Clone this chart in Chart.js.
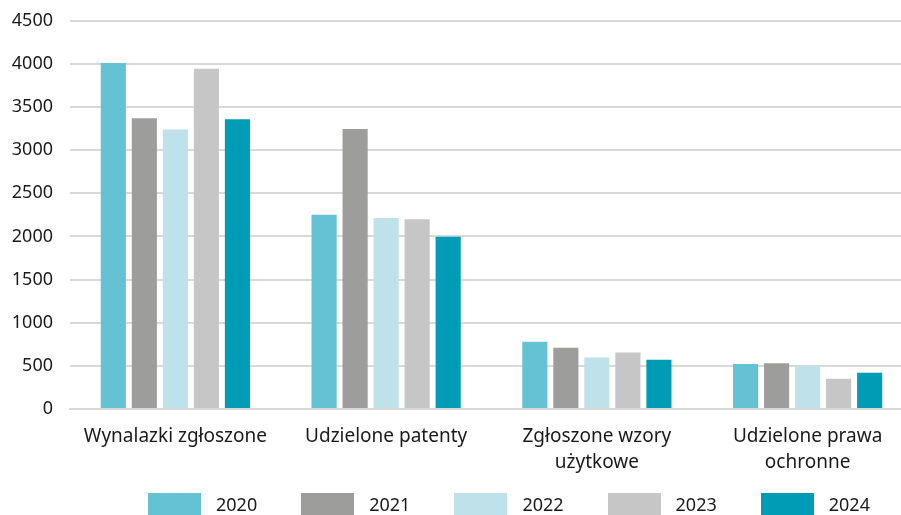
<!DOCTYPE html>
<html lang="pl">
<head>
  <meta charset="UTF-8">
  <title>Ochrona własności przemysłowej 2020-2024</title>
  <script src="https://cdn.jsdelivr.net/npm/chart.js"></script>
  <style>
    html, body { margin: 0; padding: 0; background: #fff; overflow: hidden; }
    #wrap { position: relative; width: 901px; height: 515px; overflow: hidden; }
    #box { position: absolute; left: 0; top: -7px; width: 914px; height: 505px; }
    #legenda { position: absolute; left: 148px; top: 492px; display: flex; gap: 44px;
      font-family: "Noto Sans", sans-serif; font-size: 18px; color: #1a1a1a; }
    #legenda .item { display: flex; align-items: center; }
    #legenda .kolor { width: 53px; height: 23px; margin-right: 15px; }
  </style>
</head>
<body>
  <div id="wrap">
    <div id="box"><canvas id="wykres"></canvas></div>
    <div id="legenda"></div>
  </div>

  <script>
    const kategorie = [
      "Wynalazki zgłoszone",
      "Udzielone patenty",
      ["Zgłoszone wzory", "użytkowe"],
      ["Udzielone prawa", "ochronne"]
    ];
    const lata = ["2020", "2021", "2022", "2023", "2024"];
    const kolory = ["#64c2d4", "#9d9d9c", "#bfe1e9", "#c6c6c6", "#009bb4"];

    const dane2020 = [4010, 2250, 780, 520];
    const dane2021 = [3370, 3245, 710, 530];
    const dane2022 = [3240, 2215, 595, 500];
    const dane2023 = [3945, 2200, 655, 350];
    const dane2024 = [3360, 1995, 570, 420];
    const serie = [dane2020, dane2021, dane2022, dane2023, dane2024];

    const osY = { min: 0, max: 4500, krok: 500 };

    const czcionkaY = { family: "'Noto Sans', sans-serif", size: 18 };
    const czcionkaX = { family: "'Noto Sans', sans-serif", size: 19, lineHeight: 1.37 };

    const chart = new Chart(document.getElementById('wykres'), {
      type: 'bar',
      data: {
        labels: kategorie,
        datasets: lata.map((rok, i) => ({
          label: rok,
          data: serie[i],
          backgroundColor: kolory[i],
          categoryPercentage: 0.736,
          barPercentage: 0.81
        }))
      },
      options: {
        responsive: true,
        maintainAspectRatio: false,
        animation: false,
        layout: { padding: { top: 13, left: 9, right: 1, bottom: 7 } },
        plugins: {
          legend: { display: false },
          tooltip: { enabled: false }
        },
        scales: {
          x: {
            grid: { display: false, drawTicks: false },
            border: { color: '#d9d9d9', width: 2 },
            ticks: { color: '#1a1a1a', font: czcionkaX, padding: 15, maxRotation: 0 }
          },
          y: {
            min: osY.min,
            max: osY.max,
            border: { display: false },
            grid: { color: '#d9d9d9', lineWidth: 2, drawTicks: false },
            ticks: {
              stepSize: osY.krok, color: '#1a1a1a', font: czcionkaY, padding: 17,
              callback: v => String(v)
            },
            afterFit: s => { s.width = 61; }
          }
        }
      }
    });

    // legenda w HTML, z tych samych tablic
    const leg = document.getElementById('legenda');
    chart.data.datasets.forEach(ds => {
      const el = document.createElement('div');
      el.className = 'item';
      el.innerHTML = `<span class="kolor" style="background:${ds.backgroundColor}"></span><span>${ds.label}</span>`;
      leg.appendChild(el);
    });
  </script>
</body>
</html>
